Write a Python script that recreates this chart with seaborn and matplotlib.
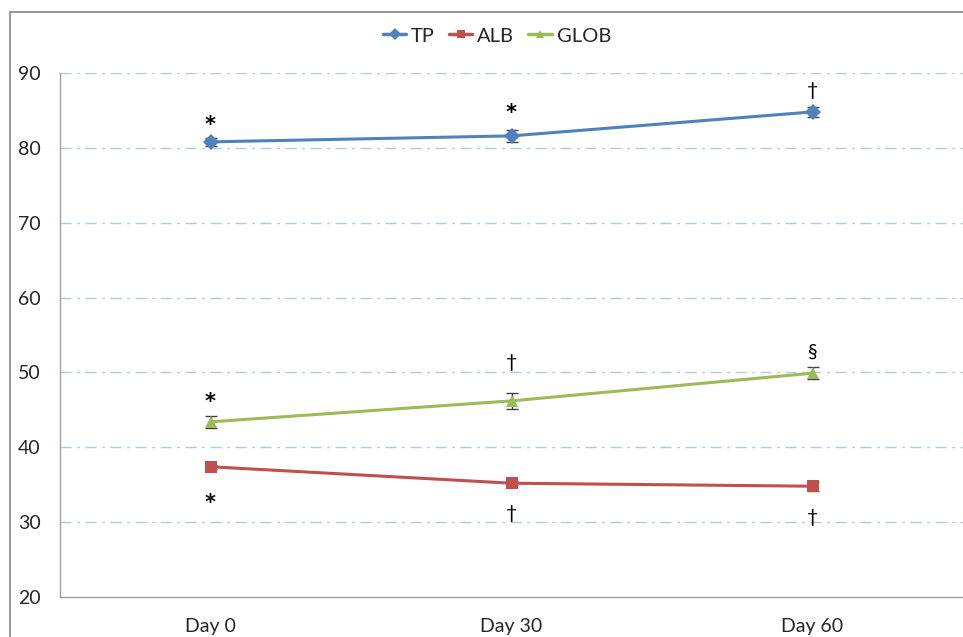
import numpy as np
import pandas as pd
import seaborn as sns
import matplotlib.pyplot as plt
from matplotlib.patches import Rectangle

# chart data
days = ["Day 0", "Day 30", "Day 60"]
series = ["TP", "ALB", "GLOB"]
tp = [80.8, 81.6, 84.8]
alb = [37.4, 35.2, 34.8]
glob = [43.4, 46.2, 49.9]
tp_err = [0.5, 0.8, 0.7]
alb_err = [0.3, 0.3, 0.6]
glob_err = [0.8, 1.1, 0.8]
tp_marks = ["*", "*", "\u2020"]
alb_marks = ["*", "\u2020", "\u2020"]
glob_marks = ["*", "\u2020", "\u00a7"]
tp_mark_y = [83.6, 85.1, 87.6]
alb_mark_y = [33.1, 31.2, 30.6]
glob_mark_y = [46.5, 51.3, 52.7]

colors = {"TP": "#4F81BD", "ALB": "#C0504D", "GLOB": "#9BBB59"}
markers = {"TP": "D", "ALB": "s", "GLOB": "^"}

sns.set_style("white")
plt.rcParams["font.family"] = ["Lato", "DejaVu Sans"]

df = pd.DataFrame({
    "x": list(range(3)) * 3,
    "value": tp + alb + glob,
    "err": tp_err + alb_err + glob_err,
    "series": [s for s in series for _ in range(3)],
})

fig = plt.figure(figsize=(9.63, 6.37), dpi=100)
ax = fig.add_axes([60 / 963, 1 - 597 / 637, 903 / 963, (597 - 73) / 637])

# outer chart border
fig.patches.append(Rectangle((10 / 963, -0.1), 1.2, 1 - 12 / 637 + 0.1,
                             transform=fig.transFigure, fill=False,
                             edgecolor="#8C8C8C", linewidth=1.3))

for y in range(30, 91, 10):
    ax.axhline(y, color="#B4C8E4", linewidth=1, linestyle=(0, (8, 4, 2, 4)), zorder=0)

for s in series:
    sub = df[df["series"] == s]
    ax.errorbar(sub["x"], sub["value"], yerr=sub["err"], fmt="none",
                ecolor="#404040", elinewidth=1, capsize=4, capthick=1, zorder=2)

sns.lineplot(data=df, x="x", y="value", hue="series", style="series",
             hue_order=series, style_order=series, palette=colors,
             markers=markers, dashes=False, linewidth=2.2, markersize=8,
             markeredgewidth=0, ax=ax, legend=True, zorder=3)

for vals, ys in [(tp_marks, tp_mark_y), (alb_marks, alb_mark_y), (glob_marks, glob_mark_y)]:
    for i, (m, y) in enumerate(zip(vals, ys)):
        if m == "*":
            ax.text(i, y - 0.5, m, ha="center", va="center", fontsize=15,
                    fontweight="bold", family="DejaVu Sans", color="black")
        else:
            ax.text(i, y, m, ha="center", va="center", fontsize=14, color="black")

ax.set_xlim(-0.5, 2.5)
ax.set_ylim(20, 90)
ax.set_yticks(range(20, 91, 10))
ax.set_xticks([0, 1, 2])
ax.set_xticklabels(days)
ax.set_xticks([-0.5, 0.5, 1.5, 2.5], minor=True)
ax.tick_params(axis="x", which="major", length=0, pad=15, labelsize=14)
ax.tick_params(axis="x", which="minor", length=5, color="#A0A0A0", direction="out")
ax.tick_params(axis="y", length=5, color="#A0A0A0", direction="out", pad=9, labelsize=14)
ax.set_xlabel("")
ax.set_ylabel("")

for side in ["top", "right"]:
    ax.spines[side].set_visible(False)
for side in ["left", "bottom"]:
    ax.spines[side].set_color("#A0A0A0")
    ax.spines[side].set_linewidth(1)

handles, labels = ax.get_legend_handles_labels()
for h in handles:
    h.set_markersize(6)
    h.set_linewidth(2.5)
ax.legend(handles, labels, loc="center", bbox_to_anchor=((497 - 60) / 903, 1 + 37 / 524),
          ncol=3, frameon=False, fontsize=14.5, handlelength=1.15, handletextpad=0.25,
          columnspacing=0.7, borderpad=0)

fig.savefig("out.png", dpi=100)
